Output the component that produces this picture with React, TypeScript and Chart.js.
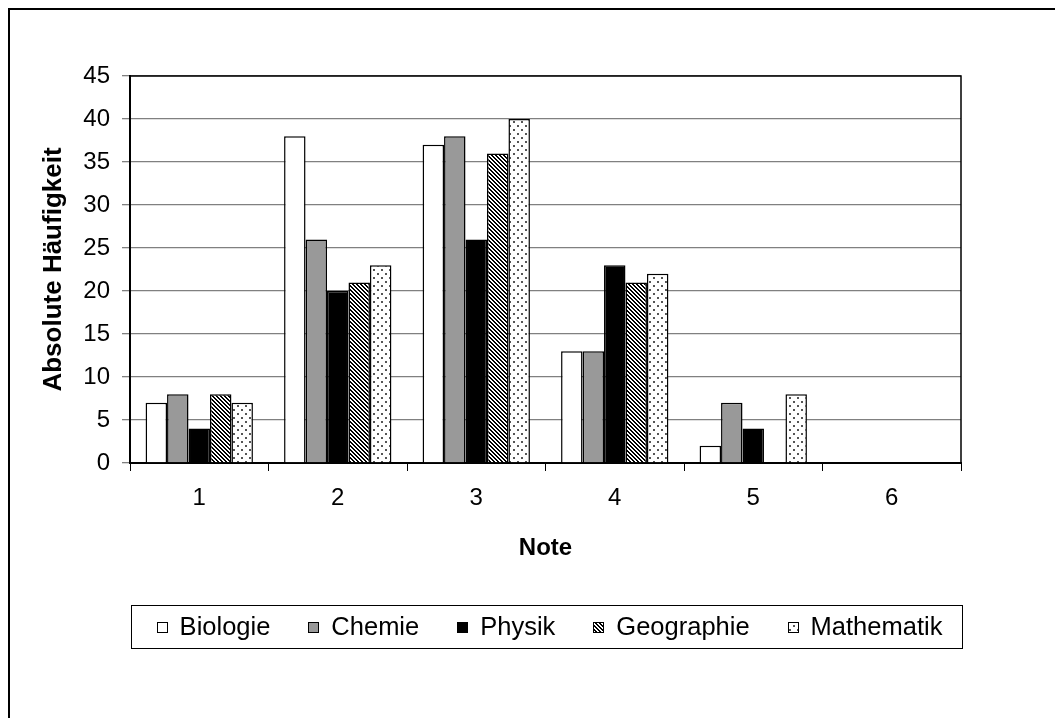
import React, { useEffect, useRef } from "react";
import { Chart, registerables } from "chart.js";
Chart.register(...registerables);

// ---- data ----
const categories = ["1", "2", "3", "4", "5", "6"];
const biologie = [7, 38, 37, 13, 2, 0];
const chemie = [8, 26, 38, 13, 7, 0];
const physik = [4, 20, 26, 23, 4, 0];
const geographie = [8, 21, 36, 21, 0, 0];
const mathematik = [7, 23, 40, 22, 8, 0];
const seriesNames = ["Biologie", "Chemie", "Physik", "Geographie", "Mathematik"];
const yMin = 0;
const yMax = 45;
const yStep = 5;
const xTitle = "Note";
const yTitle = "Absolute Häufigkeit";

const FONT = '"Liberation Sans", Arial, Helvetica, sans-serif';

function stripePattern(ctx: CanvasRenderingContext2D) {
  const c = document.createElement("canvas");
  c.width = 4;
  c.height = 4;
  const g = c.getContext("2d")!;
  g.fillStyle = "#ffffff";
  g.fillRect(0, 0, 4, 4);
  g.fillStyle = "#000000";
  for (let y = 0; y < 4; y++)
    for (let x = 0; x < 4; x++)
      if ((((x - y) % 4) + 4) % 4 < 2) g.fillRect(x, y, 1, 1);
  return ctx.createPattern(c, "repeat")!;
}

function dotPattern(ctx: CanvasRenderingContext2D) {
  const c = document.createElement("canvas");
  c.width = 8;
  c.height = 8;
  const g = c.getContext("2d")!;
  g.fillStyle = "#ffffff";
  g.fillRect(0, 0, 8, 8);
  g.fillStyle = "#555555";
  g.fillRect(1, 1, 2, 2);
  g.fillRect(5, 5, 2, 2);
  return ctx.createPattern(c, "repeat")!;
}

const outerFrame = {
  id: "outerFrame",
  beforeDraw(chart: any) {
    const { ctx, width, height } = chart;
    ctx.save();
    ctx.fillStyle = "#000";
    ctx.fillRect(8, 8, width - 8, 2);
    ctx.fillRect(8, 8, 2, height - 8);
    ctx.restore();
  },
};

const plotFrame = {
  id: "plotFrame",
  afterDraw(chart: any) {
    const { ctx, chartArea } = chart;
    ctx.save();
    ctx.strokeStyle = "#000";
    ctx.lineWidth = 1.5;
    ctx.beginPath();
    ctx.moveTo(chartArea.left, chartArea.top);
    ctx.lineTo(chartArea.right, chartArea.top);
    ctx.lineTo(chartArea.right, chartArea.bottom);
    ctx.stroke();
    ctx.restore();
  },
};

const legendBox = {
  id: "legendBox",
  afterDraw(chart: any) {
    const { ctx, chartArea } = chart;
    const xs = chart.scales.x;
    const top = Math.round(xs.bottom + 32);
    const h = 43;
    const left = Math.round(chartArea.left + 1);
    const right = Math.round(chartArea.right + 1);
    ctx.save();
    ctx.strokeStyle = "#000";
    ctx.lineWidth = 1;
    ctx.strokeRect(left + 0.5, top + 0.5, right - left, h);
    ctx.font = `25.5px ${FONT}`;
    const sw = 11;
    const gapText = 12;
    const gapItem = 38;
    const items = chart.data.datasets.map((ds: any) => ({
      label: ds.label,
      bg: ds.backgroundColor,
      w: ctx.measureText(ds.label).width,
    }));
    const total =
      items.reduce((s: number, it: any) => s + sw + gapText + it.w, 0) +
      gapItem * (items.length - 1);
    let cx = (left + right) / 2 - total / 2 + 3;
    const cy = top + h / 2 + 1;
    ctx.textBaseline = "middle";
    ctx.textAlign = "left";
    items.forEach((it: any) => {
      const bx = Math.round(cx);
      const by = Math.round(cy - sw / 2);
      ctx.fillStyle = it.bg;
      ctx.fillRect(bx, by, sw, sw);
      ctx.strokeStyle = "#000";
      ctx.lineWidth = 1;
      ctx.strokeRect(bx + 0.5, by + 0.5, sw - 1, sw - 1);
      ctx.fillStyle = "#000";
      ctx.fillText(it.label, cx + sw + gapText, cy);
      cx += sw + gapText + it.w + gapItem;
    });
    ctx.restore();
  },
};

export default function App() {
  const ref = useRef<HTMLCanvasElement | null>(null);
  useEffect(() => {
    const canvas = ref.current!;
    const ctx = canvas.getContext("2d")!;
    const fills = ["#ffffff", "#999999", "#000000", stripePattern(ctx), dotPattern(ctx)];
    const values = [biologie, chemie, physik, geographie, mathematik];
    const chart = new Chart(canvas, {
      type: "bar",
      data: {
        labels: categories,
        datasets: values.map((v, i) => ({
          label: seriesNames[i],
          data: v,
          backgroundColor: fills[i] as any,
          borderColor: "#000000",
          borderWidth: 1.5,
          categoryPercentage: 0.775,
          barPercentage: 1,
        })),
      },
      options: {
        responsive: false,
        animation: false,
        devicePixelRatio: 1,
        layout: { padding: { left: 0, right: 94, top: 76, bottom: 145 } },
        plugins: {
          legend: { display: false },
          tooltip: { enabled: false },
        },
        scales: {
          x: {
            grid: {
              drawOnChartArea: false,
              drawTicks: true,
              tickLength: 8,
              color: "#000",
              lineWidth: 1,
              offset: true,
            },
            border: { display: true, color: "#000", width: 2 },
            ticks: { color: "#000", font: { family: FONT, size: 24 }, padding: 13 },
            title: {
              display: true,
              text: xTitle,
              color: "#000",
              font: { family: FONT, size: 24, weight: "bold" },
              padding: { top: 0, bottom: 10.6 },
            },
            afterFit(scale: any) {
              scale.height = 110;
            },
          },
          y: {
            min: yMin,
            max: yMax,
            ticks: {
              stepSize: yStep,
              color: "#000",
              font: { family: FONT, size: 24 },
              padding: 12,
            },
            grid: {
              color: "#808080",
              lineWidth: 1.3,
              tickLength: 8,
              drawTicks: true,
            },
            border: { display: true, color: "#000", width: 2 },
            title: {
              display: true,
              text: yTitle,
              color: "#000",
              font: { family: FONT, size: 26, weight: "bold" },
              padding: { top: 38, bottom: 0 },
            },
            afterFit(scale: any) {
              scale.width = 130;
            },
          },
        },
      },
      plugins: [outerFrame, plotFrame, legendBox],
    });
    return () => chart.destroy();
  }, []);
  return (
    <div style={{ position: "fixed", left: 0, top: 0, width: 1055, height: 718, background: "#fff" }}>
      <canvas ref={ref} width={1055} height={718} style={{ display: "block" }} />
    </div>
  );
}
